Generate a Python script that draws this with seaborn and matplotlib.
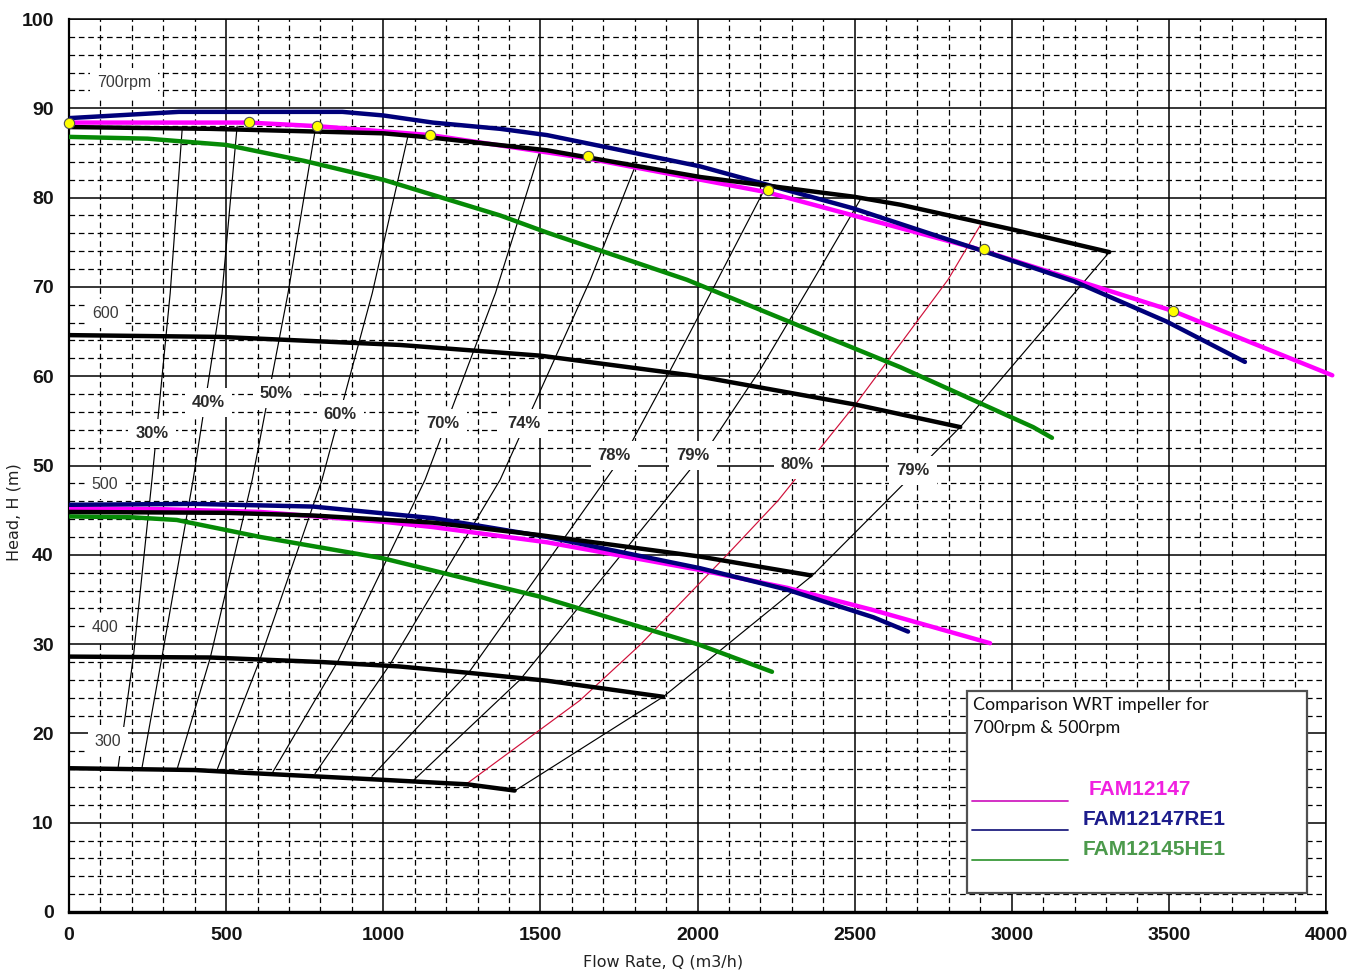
import matplotlib
matplotlib.use("Agg")
import matplotlib.pyplot as plt
import seaborn as sns
from matplotlib.lines import Line2D
from matplotlib.patches import Rectangle
from matplotlib.ticker import MultipleLocator

# ---------------- data ----------------
# Speed curves of the reference impeller (black), flow Q in m3/h, head H in m
q_700 = [0, 450, 1000, 1159, 1521, 2010, 2497, 2646, 3006, 3310]
h_700 = [87.9, 87.7, 87.2, 86.7, 85.3, 82.3, 80.1, 79.2, 76.4, 73.9]
q_600 = [0, 481, 1053, 1500, 2000, 2506, 2836]
h_600 = [64.6, 64.4, 63.5, 62.3, 60.0, 56.8, 54.3]
q_500 = [0, 500, 777, 1159, 1500, 2008, 2360]
h_500 = [44.8, 44.7, 44.4, 43.6, 42.2, 39.8, 37.7]
q_400 = [0, 449, 800, 1050, 1267, 1521, 1891]
h_400 = [28.6, 28.5, 28.0, 27.5, 26.8, 25.9, 24.1]
q_300 = [0, 400, 554, 777, 1000, 1267, 1418]
h_300 = [16.1, 15.9, 15.6, 15.2, 14.8, 14.3, 13.6]
speed_names = ["700rpm", "600", "500", "400", "300"]
speed_label_q = [175, 115, 115, 115, 124]
speed_label_h = [92.9, 67.0, 47.9, 31.9, 19.1]

# Compared impellers at 700 rpm
q_fam47_700 = [0, 300, 573, 790, 1150, 1648, 2221, 2877, 3513, 4020]
h_fam47_700 = [88.4, 88.4, 88.4, 88.0, 87.0, 84.4, 80.6, 74.4, 67.3, 60.1]
q_re1_700 = [0, 150, 350, 870, 1000, 1158, 1372, 1521, 2008, 2495, 2910, 3200, 3494, 3742]
h_re1_700 = [88.9, 89.2, 89.6, 89.6, 89.2, 88.4, 87.7, 87.0, 83.5, 78.8, 74.0, 70.6, 66.1, 61.6]
q_he1_700 = [0, 250, 500, 750, 1000, 1372, 1520, 1966, 2646, 3068, 3128]
h_he1_700 = [86.8, 86.6, 85.9, 84.1, 82.0, 78.0, 76.1, 70.8, 61.0, 54.3, 53.1]

# Compared impellers at 500 rpm
q_fam47_500 = [0, 300, 608, 1000, 1159, 1521, 2008, 2285, 2560, 2931]
h_fam47_500 = [45.2, 45.1, 44.8, 43.7, 43.1, 41.4, 38.3, 36.3, 33.8, 30.1]
q_re1_500 = [0, 400, 777, 1159, 1521, 2008, 2285, 2560, 2670]
h_re1_500 = [45.6, 45.7, 45.4, 44.1, 42.0, 38.5, 36.1, 33.0, 31.4]
q_he1_500 = [0, 200, 343, 608, 1000, 1500, 2008, 2237]
h_he1_500 = [44.3, 44.2, 43.9, 42.0, 39.6, 35.3, 29.9, 26.9]

# Marked duty points on the FAM12147 700 rpm curve
dot_q = [0, 573, 790, 1150, 1652, 2225, 2913, 3513]
dot_h = [88.4, 88.5, 88.0, 87.0, 84.7, 80.8, 74.2, 67.3]

# Iso-efficiency lines
eff_30_q = [156, 205, 264, 322, 360]
eff_30_h = [16.1, 28.6, 48.4, 69.3, 87.6]
eff_40_q = [232, 296, 395, 487, 535]
eff_40_h = [16.1, 28.6, 48.4, 69.3, 88.0]
eff_50_q = [344, 449, 583, 697, 785]
eff_50_h = [16.0, 28.4, 48.4, 69.3, 87.9]
eff_60_q = [471, 608, 805, 965, 1078]
eff_60_h = [15.9, 28.3, 48.4, 69.3, 86.8]
eff_70_q = [649, 856, 1133, 1357, 1500]
eff_70_h = [15.7, 28.1, 48.4, 69.3, 85.4]
eff_74_q = [783, 1021, 1372, 1659, 1805]
eff_74_h = [15.5, 27.7, 48.4, 70.8, 83.8]
eff_78_q = [964, 1276, 1786, 1902, 2064, 2207]
eff_78_h = [15.2, 27.0, 52.3, 59.9, 70.8, 80.5]
eff_79a_q = [1095, 1435, 2040, 2199, 2369, 2520]
eff_79a_h = [14.7, 26.0, 52.3, 60.7, 70.8, 79.9]
eff_80_q = [1267, 1626, 1817, 2094, 2257, 2506, 2797, 2905]
eff_80_h = [14.4, 23.7, 29.9, 40.0, 46.1, 57.0, 70.8, 77.2]
eff_79b_q = [1420, 1891, 2366, 2836, 3313]
eff_79b_h = [13.6, 24.1, 37.7, 54.3, 74.0]

eff_names = ["30%", "40%", "50%", "60%", "70%", "74%", "78%", "79%", "80%", "79%"]
eff_label_q = [264, 443, 659, 863, 1190, 1448, 1735, 1986, 2317, 2686]
eff_label_h = [53.6, 57.0, 58.1, 55.7, 54.7, 54.7, 51.1, 51.1, 50.1, 49.4]

x_ticks = [0, 500, 1000, 1500, 2000, 2500, 3000, 3500, 4000]
y_ticks = [0, 10, 20, 30, 40, 50, 60, 70, 80, 90, 100]

legend_names = ["FAM12147", "FAM12147RE1", "FAM12145HE1"]

# ---------------- style ----------------
sns.set_style("white")
plt.rcParams["font.family"] = ["Liberation Sans", "DejaVu Sans"]

MAGENTA = "#ff00ff"
NAVY = "#00007a"
GREEN = "#068a06"
LW = 3.2

fig = plt.figure(figsize=(13.57, 9.75), dpi=100)
ax = fig.add_axes([69 / 1357, 63 / 975, 1257 / 1357, 893 / 975])


def curve(q, h, color, lw, z, **kw):
    sns.lineplot(x=q, y=h, ax=ax, color=color, linewidth=lw, estimator=None,
                 sort=False, legend=False, zorder=z, **kw)


# iso-efficiency lines
eff_lines = [(eff_30_q, eff_30_h), (eff_40_q, eff_40_h), (eff_50_q, eff_50_h),
             (eff_60_q, eff_60_h), (eff_70_q, eff_70_h), (eff_74_q, eff_74_h),
             (eff_78_q, eff_78_h), (eff_79a_q, eff_79a_h), (eff_79b_q, eff_79b_h)]
for q, h in eff_lines:
    curve(q, h, "black", 0.85, 2)
curve(eff_80_q, eff_80_h, "#d0103a", 0.85, 2)

# efficiency labels on white patches
for name, q, h in zip(eff_names, eff_label_q, eff_label_h):
    ax.text(q, h, name, ha="center", va="center", fontsize=12, fontweight="bold",
            color="#2a2a2a", zorder=3,
            bbox=dict(facecolor="white", edgecolor="none", pad=5))

# speed labels
for name, q, h in zip(speed_names, speed_label_q, speed_label_h):
    ax.text(q, h, name, ha="center", va="center", fontsize=11.5,
            color="#3a3a3a", zorder=3,
            bbox=dict(facecolor="white", edgecolor="none", pad=5))

# impeller comparison curves
curve(q_he1_700, h_he1_700, GREEN, LW, 4)
curve(q_he1_500, h_he1_500, GREEN, LW, 4)
curve(q_fam47_700, h_fam47_700, MAGENTA, LW, 5, clip_on=False)
curve(q_fam47_500, h_fam47_500, MAGENTA, LW, 5)
curve(q_re1_700, h_re1_700, NAVY, LW, 6)
curve(q_re1_500, h_re1_500, NAVY, LW, 6)

# speed curves
for q, h in [(q_700, h_700), (q_600, h_600), (q_500, h_500), (q_400, h_400), (q_300, h_300)]:
    curve(q, h, "black", LW, 7)

sns.scatterplot(x=dot_q, y=dot_h, ax=ax, color="#ffff00", edgecolor="#505050",
                linewidth=0.8, s=55, zorder=8, clip_on=False, legend=False)

# ---------------- axes ----------------
ax.set_xlim(0, 4000)
ax.set_ylim(0, 100)
ax.xaxis.set_major_locator(MultipleLocator(500))
ax.xaxis.set_minor_locator(MultipleLocator(100))
ax.yaxis.set_major_locator(MultipleLocator(10))
ax.yaxis.set_minor_locator(MultipleLocator(2))
ax.set_xticks(x_ticks)
ax.set_yticks(y_ticks)
ax.set_xticklabels([str(v) for v in x_ticks], fontweight="bold", fontsize=14, color="#141414")
ax.set_yticklabels([str(v) for v in y_ticks], fontweight="bold", fontsize=14, color="#141414")
ax.set_axisbelow(True)
ax.grid(which="major", color="black", linewidth=1.1, linestyle="-")
ax.grid(which="minor", color="black", linewidth=0.9, linestyle=(0, (4.5, 3)))
ax.tick_params(which="major", direction="out", length=6, width=1.1, color="black", pad=5)
ax.tick_params(which="minor", length=0)
for side, w in [("left", 1.6), ("bottom", 2.4), ("top", 1.1), ("right", 1.1)]:
    ax.spines[side].set_visible(True)
    ax.spines[side].set_color("black")
    ax.spines[side].set_linewidth(w)
ax.set_xlabel("")
ax.set_ylabel("")

fig.text(14 / 1357, 1 - 512 / 975, "Head, H (m)", rotation=90, ha="center", va="center",
         fontsize=11.5, family="DejaVu Sans", color="#222222")
fig.text(663 / 1357, 1 - 962 / 975, "Flow Rate, Q (m3/h)", ha="center", va="center",
         fontsize=11.5, family="DejaVu Sans", color="#222222")

# ---------------- legend panel ----------------
box = Rectangle((0.7144, 0.0213), 0.2705, 0.2262, transform=ax.transAxes,
                facecolor="white", edgecolor="#505050", linewidth=1.6, zorder=10)
ax.add_patch(box)
ax.text(0.719, 0.232, "Comparison WRT impeller for", transform=ax.transAxes,
        ha="left", va="center", fontsize=13, family="Lato", color="#111111", zorder=11)
ax.text(0.719, 0.206, "700rpm & 500rpm", transform=ax.transAxes,
        ha="left", va="center", fontsize=13, family="Lato", color="#111111", zorder=11)

legend_line_y = [0.124, 0.092, 0.058]
legend_text_x = [0.811, 0.806, 0.806]
legend_text_y = [0.137, 0.104, 0.0705]
legend_line_colors = ["#d020c0", "#202080", "#3a9a3a"]
legend_text_colors = ["#f020e0", "#1c1c8c", "#4c9a4c"]
for name, ly, tx, ty, lc, tc in zip(legend_names, legend_line_y, legend_text_x,
                                    legend_text_y, legend_line_colors, legend_text_colors):
    ax.add_line(Line2D([0.718, 0.795], [ly, ly], transform=ax.transAxes,
                       color=lc, linewidth=1.3, zorder=11))
    ax.text(tx, ty, name, transform=ax.transAxes, ha="left", va="center",
            fontsize=15, fontweight="bold", color=tc, zorder=11)

fig.savefig("out.png", dpi=100, facecolor="white")
